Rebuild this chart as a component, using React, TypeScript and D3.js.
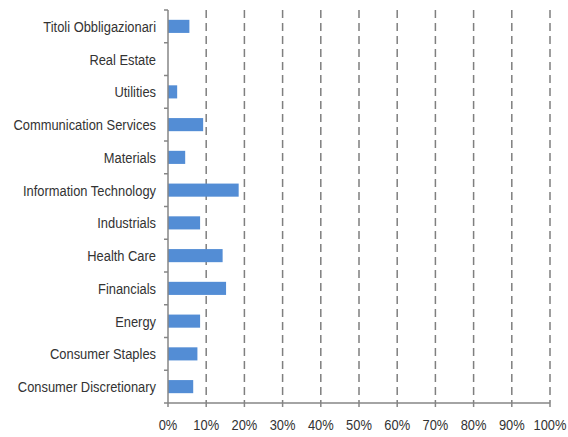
import React, { useRef, useEffect } from 'react';
import * as d3 from 'd3';

const categories = [
  'Titoli Obbligazionari',
  'Real Estate',
  'Utilities',
  'Communication Services',
  'Materials',
  'Information Technology',
  'Industrials',
  'Health Care',
  'Financials',
  'Energy',
  'Consumer Staples',
  'Consumer Discretionary',
];
const weights = [5.6, 0, 2.4, 9.2, 4.5, 18.5, 8.4, 14.3, 15.2, 8.4, 7.7, 6.6];
const xTicks = [0, 10, 20, 30, 40, 50, 60, 70, 80, 90, 100];

const width = 568;
const height = 437;
const margin = { top: 10, right: 18, bottom: 34, left: 168 };
const font = '"Liberation Sans Narrow", "Arial Narrow", "Liberation Sans", Arial, sans-serif';
// the original uses a condensed face; squeeze the regular one horizontally
const squeeze = 0.86;

const SectorChart = () => {
  const ref = useRef<SVGSVGElement | null>(null);

  useEffect(() => {
    if (!ref.current) return;
    const svg = d3.select(ref.current);
    svg.selectAll('*').remove();

    const x = d3.scaleLinear()
      .domain([0, 100])
      .range([margin.left, width - margin.right]);

    const y = d3.scaleBand()
      .domain(categories)
      .range([margin.top, height - margin.bottom])
      .paddingInner(0.6)
      .paddingOuter(0.3);

    // dashed gridlines
    svg.append('g')
      .selectAll('line')
      .data(xTicks.slice(1))
      .enter()
      .append('line')
      .attr('x1', d => x(d))
      .attr('x2', d => x(d))
      .attr('y1', margin.top)
      .attr('y2', height - margin.bottom)
      .attr('stroke', '#7f7f7f')
      .attr('stroke-width', 1.5)
      .attr('stroke-dasharray', '8,5');

    // bars
    svg.append('g')
      .selectAll('rect')
      .data(categories)
      .enter()
      .append('rect')
      .attr('x', x(0))
      .attr('y', d => y(d)!)
      .attr('width', (d, i) => x(weights[i]) - x(0))
      .attr('height', y.bandwidth())
      .attr('fill', '#538dd5');

    // y axis
    const yAxisG = svg.append('g');
    yAxisG.append('line')
      .attr('x1', x(0)).attr('x2', x(0))
      .attr('y1', margin.top).attr('y2', height - margin.bottom)
      .attr('stroke', '#868686').attr('stroke-width', 1.5);
    const bounds = d3.range(categories.length + 1)
      .map(i => margin.top + i * y.step());
    yAxisG.selectAll('.yt')
      .data(bounds)
      .enter()
      .append('line')
      .attr('x1', x(0) - 4).attr('x2', x(0))
      .attr('y1', d => d).attr('y2', d => d)
      .attr('stroke', '#868686').attr('stroke-width', 1.5);
    yAxisG.selectAll('text')
      .data(categories)
      .enter()
      .append('text')
      .attr('transform', d => `translate(${x(0) - 12},${y(d)! + y.bandwidth() / 2}) scale(${squeeze},1)`)
      .attr('dy', '0.36em')
      .attr('text-anchor', 'end')
      .attr('font-family', font)
      .attr('font-size', '15px')
      .attr('fill', '#333')
      .text(d => d);

    // x axis
    const xAxisG = svg.append('g');
    const axisY = height - margin.bottom;
    xAxisG.append('line')
      .attr('x1', x(0)).attr('x2', x(100))
      .attr('y1', axisY).attr('y2', axisY)
      .attr('stroke', '#868686').attr('stroke-width', 1.5);
    xAxisG.selectAll('.xt')
      .data(xTicks)
      .enter()
      .append('line')
      .attr('x1', d => x(d)).attr('x2', d => x(d))
      .attr('y1', axisY).attr('y2', axisY + 4)
      .attr('stroke', '#868686').attr('stroke-width', 1.5);
    xAxisG.selectAll('text')
      .data(xTicks)
      .enter()
      .append('text')
      .attr('transform', d => `translate(${x(d)},${axisY + 27}) scale(${squeeze},1)`)
      .attr('text-anchor', 'middle')
      .attr('font-family', font)
      .attr('font-size', '15px')
      .attr('fill', '#333')
      .text(d => `${d}%`);
  }, []);

  return (
    <svg ref={ref} width={width} height={height} style={{ position: 'absolute', left: 0, top: 0 }}></svg>
  );
};

export default function App() {
  return <SectorChart />;
}
